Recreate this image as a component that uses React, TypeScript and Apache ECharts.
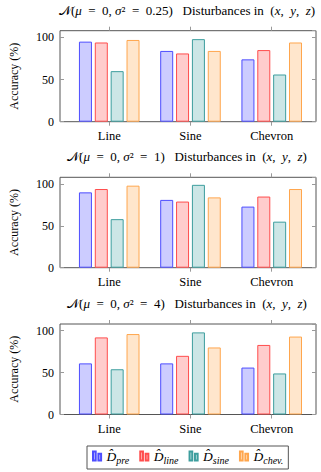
import React, { useEffect, useRef } from "react";
import * as echarts from "echarts";

const categories = ["Line", "Sine", "Chevron"];
const seriesNames = ["pre", "line", "sine", "chev."];
const panelSigmas = ["0.25", "1", "4"];

// panel 1 (sigma^2 = 0.25)
const p1Pre = [95, 84, 74];
const p1Line = [94, 81, 85];
const p1Sine = [60, 98, 56];
const p1Chev = [97, 84, 94];
// panel 2 (sigma^2 = 1)
const p2Pre = [90, 81, 73];
const p2Line = [94, 79, 85];
const p2Sine = [58, 99, 55];
const p2Chev = [98, 84, 94];
// panel 3 (sigma^2 = 4)
const p3Pre = [61, 61, 56];
const p3Line = [92, 70, 83];
const p3Sine = [54, 98, 49];
const p3Chev = [96, 80, 93];

const panels = [
  [p1Pre, p1Line, p1Sine, p1Chev],
  [p2Pre, p2Line, p2Sine, p2Chev],
  [p3Pre, p3Line, p3Sine, p3Chev],
];

const strokes = ["#4d4dff", "#ff4d4d", "#3d9e9e", "#ffa64d"];
const fills = ["#ccccff", "#ffcccc", "#cce6e6", "#ffe6cc"];

const FONT = "'Liberation Serif', 'DejaVu Serif', serif";
const NB = "\u00A0";

export default function App() {
  const ref = useRef<HTMLDivElement>(null);
  useEffect(() => {
    if (!ref.current) return;
    const chart = echarts.init(ref.current, undefined, { renderer: "svg" });
    const tops = [30.7, 177.3, 324];
    const heights = [91, 90.4, 90.5];
    const gridLeft = 56;
    const gridRight = 5;
    const grids: any[] = [];
    const xAxes: any[] = [];
    const yAxes: any[] = [];
    const titles: any[] = [];
    const series: any[] = [];
    const catIdx = categories.map((_, i) => i);
    const eq = `${NB}${NB}=${NB}${NB}`;
    panels.forEach((panel, p) => {
      grids.push({
        left: gridLeft,
        right: gridRight,
        top: tops[p],
        height: heights[p],
        show: true,
        borderColor: "#555",
        borderWidth: 1,
        backgroundColor: "transparent",
      });
      const baseX = {
        type: "value",
        gridIndex: p,
        min: -0.606,
        max: 2.545,
        splitLine: { show: false },
        axisLine: { show: false, onZero: false },
      };
      xAxes.push({
        ...baseX,
        position: "bottom",
        axisTick: { show: true, customValues: catIdx, length: 4, inside: false, lineStyle: { color: "#999" } },
        axisLabel: {
          show: true,
          customValues: catIdx,
          formatter: (v: number) => categories[Math.round(v)] ?? "",
          fontFamily: FONT,
          fontSize: 12.5,
          color: "#000",
          margin: 8,
        },
      });
      xAxes.push({
        ...baseX,
        position: "top",
        axisTick: { show: true, customValues: catIdx, length: 4, inside: false, lineStyle: { color: "#999" } },
        axisLabel: { show: false },
      });
      const baseY = {
        type: "value",
        gridIndex: p,
        min: 0,
        max: 108,
        interval: 50,
        splitLine: { show: false },
        axisLine: { show: false, onZero: false },
        axisTick: { show: true, inside: true, length: 4, lineStyle: { color: "#999" } },
      };
      yAxes.push({
        ...baseY,
        position: "left",
        name: "Accuracy (%)",
        nameLocation: "middle",
        nameRotate: 90,
        nameGap: 40,
        nameTextStyle: { fontFamily: FONT, fontSize: 12, color: "#000" },
        axisLabel: {
          fontFamily: FONT,
          fontSize: 12,
          color: "#000",
          margin: 6,
        },
      });
      yAxes.push({
        ...baseY,
        position: "right",
        axisLabel: { show: false },
      });
      titles.push({
        text:
          `{n|𝒩}({i|μ}${eq}0,${NB}{i|σ}²${eq}${panelSigmas[p]})${NB}${NB}${NB}` +
          `Disturbances in${NB}${NB}({i|x},${NB}${NB}{i|y},${NB}${NB}{i|z})`,
        left: 187,
        top: tops[p] - 27,
        textAlign: "center",
        padding: 0,
        textStyle: {
          fontFamily: FONT,
          fontSize: 13,
          fontWeight: "normal",
          color: "#000",
          rich: {
            n: { fontFamily: FONT, fontSize: 13, color: "#000" },
            i: { fontFamily: FONT, fontSize: 13, fontStyle: "italic", color: "#000" },
          },
        },
      });
      panel.forEach((vals, s) => {
        series.push({
          type: "bar",
          name: seriesNames[s],
          xAxisIndex: p * 2,
          yAxisIndex: p * 2,
          barWidth: 13,
          barGap: "22%",
          data: vals.map((v, i) => [i, v]),
          itemStyle: { color: fills[s], borderColor: strokes[s], borderWidth: 1 },
          emphasis: { disabled: true },
        });
      });
    });

    chart.setOption({
      animation: false,
      title: titles,
      grid: grids,
      xAxis: xAxes,
      yAxis: yAxes,
      series,
      legend: {
        data: seriesNames,
        left: 87,
        top: 446,
        orient: "horizontal",
        padding: [3, 5, 3, 5],
        borderColor: "#555",
        borderWidth: 1,
        itemGap: 10,
        itemWidth: 11,
        itemHeight: 9,
        icon: "path://M0,0 h3 v10 h-3 Z M6,2.5 h3 v7.5 h-3 Z",
        formatter: (name: string) => `{d|D\u0302}{s|${name}}`,
        textStyle: {
          fontFamily: FONT,
          color: "#000",
          padding: [0, 0, 0, -1],
          rich: {
            d: { fontFamily: FONT, fontSize: 13.5, fontStyle: "italic", color: "#000", lineHeight: 20, verticalAlign: "middle" },
            s: { fontFamily: FONT, fontSize: 10, fontStyle: "italic", color: "#000", lineHeight: 20, verticalAlign: "bottom", padding: [0, 0, 1, 0] },
          },
        },
      },
    });
    return () => chart.dispose();
  }, []);
  return (
    <div
      ref={ref}
      style={{ position: "fixed", left: 0, top: 0, width: 321, height: 472, background: "#fff" }}
    />
  );
}
